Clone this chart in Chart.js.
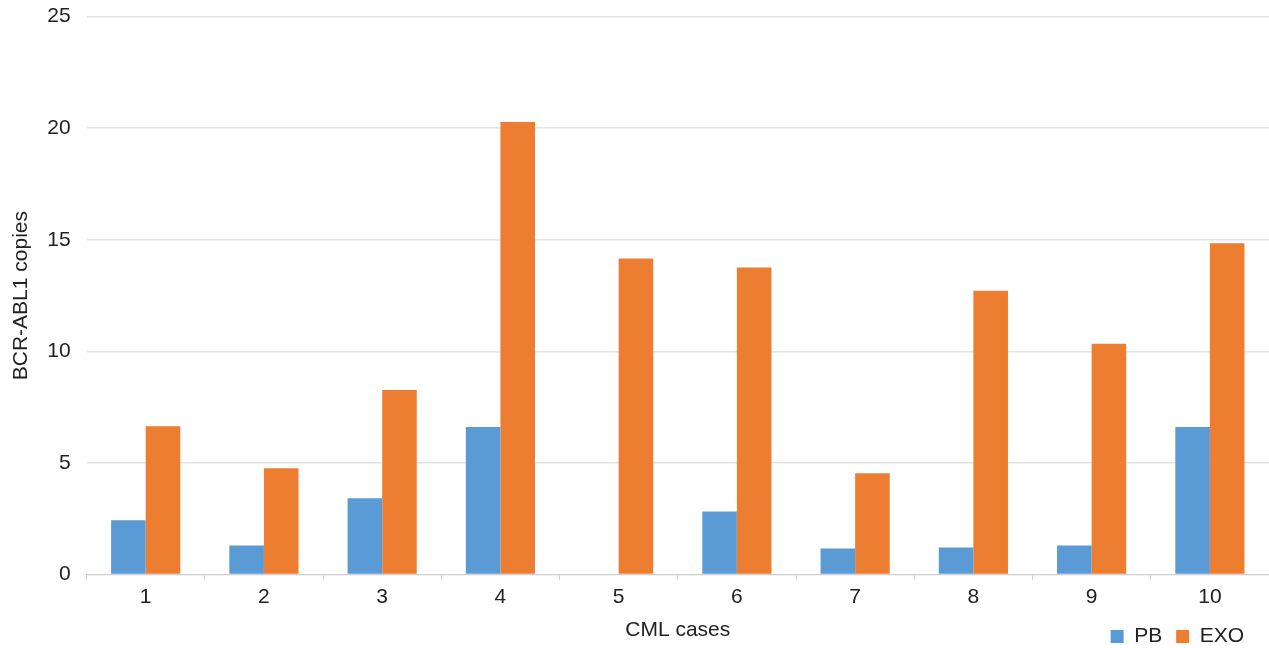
<!DOCTYPE html>
<html>
<head>
<meta charset="utf-8">
<script src="https://cdn.jsdelivr.net/npm/chart.js@4"></script>
<style>
  html, body { margin: 0; padding: 0; background: #fff; }
  #wrap { width: 1269px; height: 648px; }
</style>
</head>
<body>
<div id="wrap"><canvas id="mychart"></canvas></div>
<script>
var cases = ['1', '2', '3', '4', '5', '6', '7', '8', '9', '10'];
var pbValues = [2.43, 1.30, 3.42, 6.61, 0, 2.83, 1.17, 1.21, 1.30, 6.61];
var exoValues = [6.65, 4.77, 8.27, 20.28, 14.16, 13.76, 4.54, 12.72, 10.34, 14.84];
var yTicks = [0, 5, 10, 15, 20, 25];

var FONT = 'Liberation Sans, Helvetica, Arial, sans-serif';

const ctx = document.getElementById('mychart').getContext('2d');

// pull the legend in from the right edge a little, like the original
const legendShift = {
  id: 'legendShift',
  afterLayout: function (chart) {
    if (chart.legend) chart.legend.right -= 11;
  }
};

const data = {
  labels: cases,
  datasets: [
    {
      label: 'PB',
      data: pbValues,
      backgroundColor: '#5B9BD5',
      borderWidth: 0,
      categoryPercentage: 0.585,
      barPercentage: 1.0
    },
    {
      label: 'EXO',
      data: exoValues,
      backgroundColor: '#ED7D31',
      borderWidth: 0,
      categoryPercentage: 0.585,
      barPercentage: 1.0
    }
  ]
};

const config = {
  type: 'bar',
  data: data,
  plugins: [legendShift],
  options: {
    responsive: true,
    maintainAspectRatio: false,
    animation: false,
    layout: { padding: { top: 0, right: 0, left: 6, bottom: -9 } },
    scales: {
      x: {
        grid: {
          display: true,
          drawOnChartArea: false,
          drawTicks: true,
          tickLength: 5,
          color: '#d0d0d0'
        },
        border: { display: true, color: '#d0d0d0', width: 1 },
        ticks: { color: '#222', font: { family: FONT, size: 21 }, padding: 5 },
        title: {
          display: true,
          text: 'CML cases',
          color: '#222',
          font: { family: FONT, size: 21 },
          padding: { top: 3, bottom: -31 }
        }
      },
      y: {
        min: 0,
        max: 25,
        afterBuildTicks: function (axis) {
          axis.ticks = yTicks.map(function (v) { return { value: v }; });
        },
        afterFit: function (axis) {
          axis.width += 9;
        },
        grid: {
          color: '#e3e3e3',
          lineWidth: 1.5,
          drawTicks: true,
          tickLength: 12,
          tickColor: 'rgba(0,0,0,0)'
        },
        border: { display: false },
        ticks: { color: '#222', font: { family: FONT, size: 21 }, padding: 4 },
        title: {
          display: true,
          text: 'BCR-ABL1 copies',
          color: '#222',
          font: { family: FONT, size: 21 },
          padding: { top: 3, bottom: 0 }
        }
      }
    },
    plugins: {
      legend: {
        position: 'bottom',
        align: 'end',
        labels: {
          color: '#222',
          font: { family: FONT, size: 21 },
          boxWidth: 13,
          boxHeight: 13,
          padding: 14
        }
      },
      tooltip: { enabled: false }
    }
  }
};

const barChart = new Chart(ctx, config);
</script>
</body>
</html>
